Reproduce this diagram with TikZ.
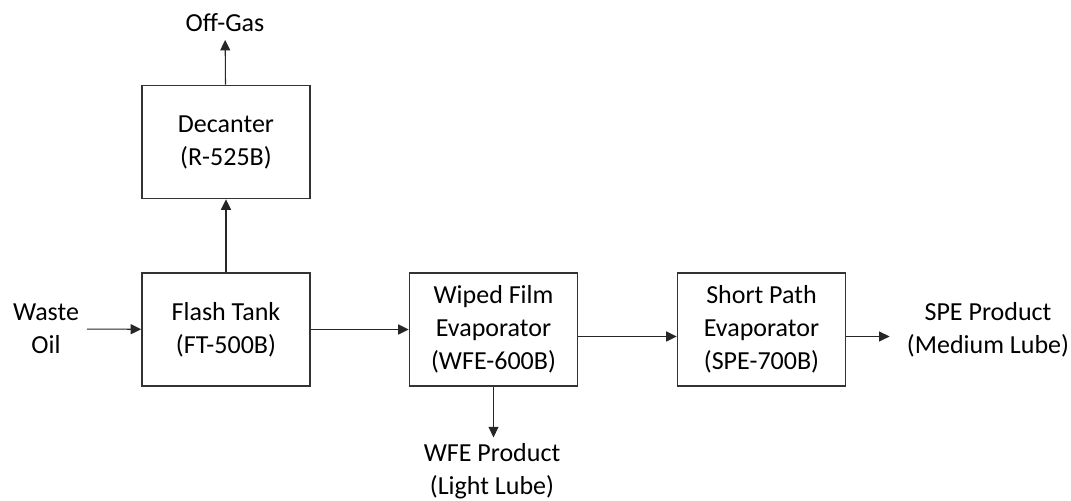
\documentclass[tikz,border=0pt]{standalone}
\usepackage{fontspec}
\setmainfont{Carlito}
\usepackage{tikz}
\usetikzlibrary{arrows.meta,positioning}

\begin{document}
\begin{tikzpicture}[>={Triangle[length=0.21cm,width=0.2cm]},
    unit/.style={draw=black!80, line width=0.9pt, minimum width=3.36cm, minimum height=2.26cm,
                 align=center, font=\fontsize{14.8pt}{18.8pt}\selectfont},
    stream/.style={align=center, inner sep=0.15cm, font=\fontsize{14.8pt}{18.8pt}\selectfont},
    flow/.style={->, draw=black!85, line width=0.6pt}]

\useasboundingbox (0,0) rectangle (21.42,10.02);

% === Process units ===
\node[unit] (dec) at (4.52,7.18)  {Decanter\\(R-525B)};
\node[unit] (ft)  at (4.52,3.43)  {Flash Tank\\(FT-500B)};
\node[unit] (wfe) at (9.87,3.43)  {Wiped Film\\Evaporator\\(WFE-600B)};
\node[unit] (spe) at (15.23,3.43) {Short Path\\Evaporator\\(SPE-700B)};

% === Feed and product streams ===
\node[stream] (oil)     at (0.92,3.44)  {Waste\\Oil};
\node[stream] (offgas)  at (4.50,9.56)  {Off-Gas};
\node[stream] (wfeprod) at (9.84,0.60)  {WFE Product\\(Light Lube)};
\node[stream] (speprod) at (19.76,3.43) {SPE Product\\(Medium Lube)};

% === Flows ===
\draw[flow] (oil) -- (ft);
\draw[flow] (ft) -- (dec);
\draw[flow] (dec) -- (offgas);
\draw[flow] (ft) -- (wfe);
\draw[flow, shorten >=-0.04cm] (wfe.south) -- (wfeprod.north -| wfe.south);
\draw[flow] ([yshift=-0.14cm]wfe.east) -- ([yshift=-0.14cm]spe.west);
\draw[flow, shorten >=0.19cm] ([yshift=-0.14cm]spe.east) -- ([yshift=-0.14cm]speprod.west);

\end{tikzpicture}
\end{document}
